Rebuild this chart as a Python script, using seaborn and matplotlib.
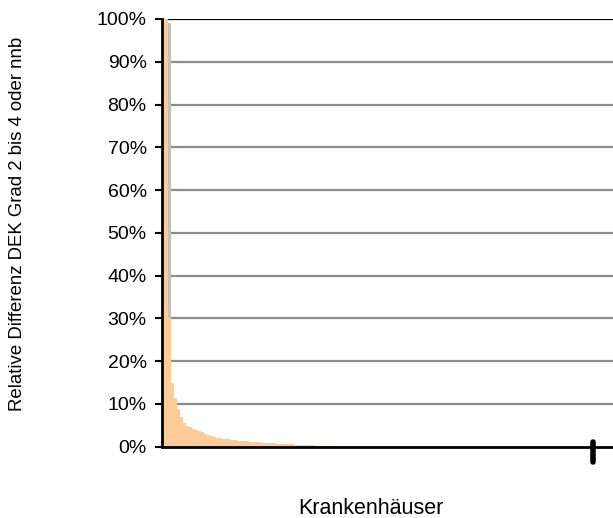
import matplotlib
matplotlib.use("Agg")
import matplotlib.pyplot as plt
import seaborn as sns

# relative Differenz je Krankenhaus (sortiert absteigend)
werte = [
    1.00, 1.00, 0.30, 0.15, 0.115, 0.089, 0.070, 0.056, 0.049, 0.046,
    0.042, 0.039, 0.037, 0.035, 0.030, 0.027, 0.025, 0.023, 0.021, 0.020,
    0.019, 0.018, 0.017, 0.016, 0.015, 0.014, 0.0135, 0.013, 0.0125, 0.012,
    0.0115, 0.011, 0.010, 0.0095, 0.009, 0.0085, 0.008, 0.0078, 0.0075, 0.0072,
    0.007, 0.0068, 0.006, 0.0055, 0.005, 0.0048, 0.0045, 0.0042, 0.004, 0.0035,
    0.003, 0.0025, 0.002, 0.0015, 0.001, 0.001, 0.0008, 0.0006, 0.0005, 0.0004,
    0.0003, 0.0003, 0.0002, 0.0002, 0.0001, 0.0001, 0.0, 0.0, 0.0, 0.0,
    0.0, 0.0, 0.0, 0.0, 0.0, 0.0, 0.0, 0.0, 0.0, 0.0,
    0.0, 0.0, 0.0, 0.0, 0.0, 0.0, 0.0, 0.0, 0.0, 0.0,
    0.0, 0.0, 0.0, 0.0, 0.0, 0.0, 0.0, 0.0, 0.0, 0.0,
    0.0, 0.0, 0.0, 0.0, 0.0, 0.0, 0.0, 0.0, 0.0, 0.0,
    0.0, 0.0, 0.0, 0.0, 0.0, 0.0, 0.0, 0.0, -0.002, -0.002,
    -0.002, -0.002, -0.002, -0.002, -0.002, -0.002, -0.002, -0.002, -0.002, -0.002,
    -0.002, -0.002, -0.002, -0.002, -0.002, -0.002, -0.002, -0.002, -0.002, -0.002,
    -0.002, -0.002, -0.002, -0.002, -0.002, -0.002, -0.002, -0.002, -0.002, -0.002,
]
# zweite Reihe (grau), nur ein Haus
grau_index = 2
grau_wert = 0.99
# markiertes Haus
mark_index = 143
mark_von = -0.035
mark_bis = 0.011

yticks = [0, 0.1, 0.2, 0.3, 0.4, 0.5, 0.6, 0.7, 0.8, 0.9, 1.0]
ylabels = ["0%", "10%", "20%", "30%", "40%", "50%", "60%", "70%", "80%", "90%", "100%"]

n = len(werte)
idx = list(range(n))
grau = [grau_wert if i == grau_index else 0.0 for i in idx]

sns.set_style("white")
plt.rcParams['font.family'] = ['Liberation Sans', 'DejaVu Sans']
plt.rcParams['text.color'] = 'black'
plt.rcParams['ytick.color'] = 'black'

fig = plt.figure(figsize=(6.13, 5.18), dpi=100)
ax = fig.add_axes([162/613, 1-448/518, 451/613, (448-19)/518])

for t in yticks[1:-1]:
    ax.axhline(t, color="#8c8c8c", lw=1.6, zorder=0)
ax.axhline(1.0, color="black", lw=1.6, zorder=0)

sns.barplot(x=idx, y=grau, color="#bfbfbf", width=1.0, linewidth=0,
            saturation=1, ax=ax, zorder=1)
sns.barplot(x=idx, y=werte, color="#ffcc99", width=1.0, linewidth=0,
            saturation=1, ax=ax, zorder=2)

ax.plot([mark_index, mark_index], [mark_von, mark_bis], color="black", lw=4,
        solid_capstyle="round", clip_on=False, zorder=5)

ax.set_xlim(-0.5, n - 0.5)
ax.set_ylim(-0.003, 1.0)
ax.set_xticks([])
ax.set_yticks(yticks)
ax.set_yticklabels(ylabels, fontsize=14, color="black")
ax.tick_params(axis="y", length=5, width=1.5, color="black", pad=6, direction="out", left=True)
ax.set_xlabel("")
ax.set_ylabel("")

ax.spines["top"].set_visible(False)
ax.spines["right"].set_visible(False)
ax.spines["left"].set_color("black")
ax.spines["left"].set_linewidth(2)
ax.spines["left"].set_bounds(0, 1.0)
ax.spines["bottom"].set_color("black")
ax.spines["bottom"].set_linewidth(2)
ax.spines["bottom"].set_position(("data", 0))

fig.text(18/613, 1-224/518, "Relative Differenz DEK Grad 2 bis 4 oder nnb",
         rotation=90, ha="center", va="center", fontsize=13.4, color="black")
fig.text(371/613, 1-508/518, "Krankenhäuser", ha="center", va="center",
         fontsize=15.5, color="black")

fig.savefig("out.png", dpi=100)
